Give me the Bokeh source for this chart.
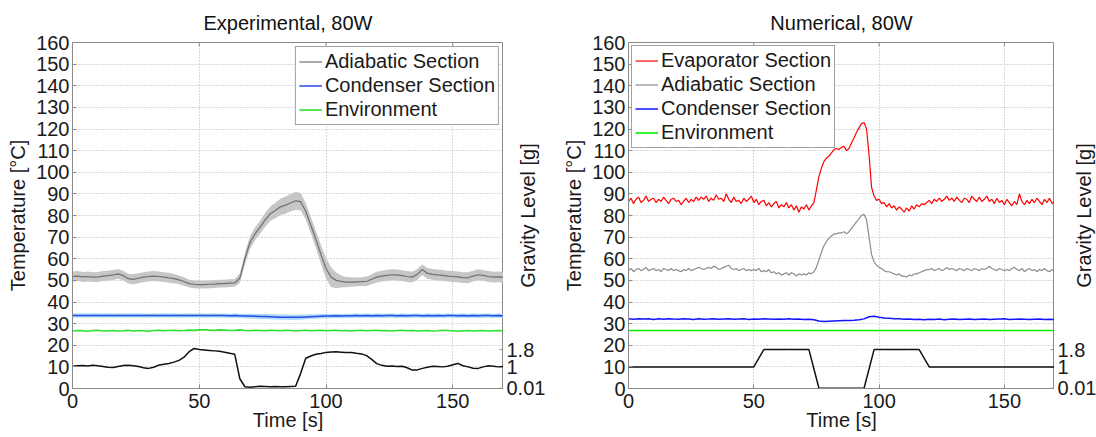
import math
from bokeh.plotting import figure
from bokeh.models import Range1d, FixedTicker, Legend, LegendItem
from bokeh.layouts import row
from bokeh.embed import file_html
from bokeh.resources import INLINE
from bokeh.core.properties import value

# ---------------- data ----------------
x_ticks = [0, 50, 100, 150]
y_ticks = [0, 10, 20, 30, 40, 50, 60, 70, 80, 90, 100, 110, 120, 130, 140, 150, 160]
g_ticks = [0.01, 1, 1.8]
g_tick_labels = ["0.01", "1", "1.8"]

t_exp = list(range(0, 171, 2))

exp_adiab = [51.8, 52.0, 51.6, 51.8, 51.5, 51.6, 52.0, 52.2, 52.5, 53.0,
             52.2, 50.8, 50.5, 51.0, 51.5, 51.8, 52.0, 51.8, 51.5, 51.2,
             50.8, 50.2, 49.5, 48.5, 48.2, 48.0, 48.0, 48.2, 48.3, 48.5,
             48.5, 48.7, 48.8, 51.0, 60.0, 67.5, 71.5, 74.6, 78.0, 80.8,
             82.3, 84.0, 84.8, 85.8, 86.8, 86.4, 82.0, 75.5, 69.0, 62.0,
             55.5, 51.5, 50.0, 49.5, 49.2, 49.2, 49.3, 49.4, 49.6, 50.5,
             51.5, 52.0, 52.3, 52.6, 52.5, 52.2, 51.8, 51.5, 52.8, 55.0,
             53.2, 52.8, 52.5, 52.3, 52.0, 51.8, 51.6, 51.3, 51.2, 52.0,
             52.6, 52.3, 51.8, 51.5, 51.6, 51.5]

exp_adiab_band = [2.3, 2.3, 2.3, 2.3, 2.3, 2.3, 2.3, 2.3, 2.3, 2.3,
                  2.3, 2.3, 2.3, 2.3, 2.3, 2.3, 2.3, 2.3, 2.3, 2.3,
                  2.1, 2.0, 2.0, 1.8, 1.8, 1.8, 1.8, 1.8, 1.8, 1.8,
                  1.8, 1.8, 1.8, 2.2, 2.8, 3.0, 3.0, 3.0, 3.2, 3.4,
                  3.6, 3.8, 4.0, 4.0, 4.2, 4.0, 3.8, 3.8, 4.0, 4.4,
                  4.8, 4.6, 3.6, 2.8, 2.4, 2.2, 2.0, 2.0, 2.2, 2.3,
                  2.5, 2.5, 2.5, 2.5, 2.5, 2.5, 2.5, 2.5, 2.5, 2.5,
                  2.5, 2.5, 2.5, 2.5, 2.5, 2.5, 2.5, 2.5, 2.5, 2.5,
                  2.5, 2.5, 2.5, 2.5, 2.5, 2.5]

exp_cond = [33.8, 33.7, 33.8, 33.7, 33.8, 33.8, 33.7, 33.8, 33.7, 33.8,
            33.7, 33.8, 33.7, 33.8, 33.7, 33.7, 33.8, 33.7, 33.8, 33.7,
            33.8, 33.7, 33.7, 33.8, 33.7, 33.8, 33.7, 33.7, 33.8, 33.7,
            33.7, 33.6, 33.7, 33.6, 33.5, 33.5, 33.4, 33.3, 33.3, 33.2,
            33.1, 33.0, 33.0, 32.9, 32.9, 33.0, 33.1, 33.2, 33.3, 33.4,
            33.5, 33.5, 33.6, 33.5, 33.6, 33.6, 33.7, 33.6, 33.7, 33.6,
            33.7, 33.6, 33.7, 33.7, 33.6, 33.7, 33.6, 33.7, 33.7, 33.6,
            33.7, 33.6, 33.7, 33.6, 33.7, 33.7, 33.6, 33.7, 33.6, 33.7,
            33.6, 33.7, 33.7, 33.6, 33.7, 33.6]

exp_cond_band = [1.0, 1.0, 1.0, 1.0, 1.0, 1.0, 1.0, 1.0, 1.0, 1.0,
                 1.0, 1.0, 1.0, 1.0, 1.0, 1.0, 1.0, 1.0, 1.0, 1.0,
                 1.0, 1.0, 1.0, 1.0, 1.0, 1.0, 1.0, 1.0, 1.0, 1.0,
                 1.0, 1.0, 1.0, 1.0, 1.1, 1.1, 1.1, 1.2, 1.2, 1.2,
                 1.2, 1.2, 1.2, 1.2, 1.2, 1.2, 1.1, 1.1, 1.0, 1.0,
                 1.0, 1.0, 1.0, 1.0, 1.0, 1.0, 1.0, 1.0, 1.0, 1.0,
                 1.0, 1.0, 1.0, 1.0, 1.0, 1.0, 1.0, 1.0, 1.0, 1.0,
                 1.0, 1.0, 1.0, 1.0, 1.0, 1.0, 1.0, 1.0, 1.0, 1.0,
                 1.0, 1.0, 1.0, 1.0, 1.0, 1.0]

exp_env = [26.6, 26.8, 26.7, 26.5, 26.8, 26.9, 26.6, 26.7, 26.8, 26.6,
           26.7, 26.9, 26.6, 26.8, 26.7, 26.5, 26.8, 26.9, 26.7, 26.8,
           26.9, 26.7, 26.8, 27.0, 26.9, 27.1, 27.2, 27.0, 26.9, 27.1,
           27.0, 26.8, 26.9, 27.1, 26.8, 26.7, 26.9, 26.8, 26.7, 26.9,
           26.8, 26.7, 26.9, 26.8, 26.6, 26.8, 26.9, 26.7, 26.8, 26.9,
           26.7, 26.8, 26.9, 26.7, 26.8, 26.6, 26.8, 26.9, 26.7, 26.8,
           26.9, 26.7, 26.8, 26.6, 26.8, 26.9, 26.7, 26.8, 26.6, 26.7,
           26.8, 26.6, 26.7, 26.9, 26.8, 26.7, 26.5, 26.7, 26.8, 26.6,
           26.7, 26.8, 26.6, 26.7, 26.8, 26.7]

exp_grav = [1.03, 1.05, 1.06, 1.04, 1.08, 1.05, 1.02, 0.98, 0.97, 1.02,
            1.06, 1.08, 1.05, 1.02, 0.96, 0.93, 0.98, 1.08, 1.12, 1.16,
            1.22, 1.30, 1.45, 1.70, 1.85, 1.80, 1.78, 1.76, 1.74, 1.72,
            1.68, 1.63, 1.58, 0.45, 0.08, 0.06, 0.08, 0.10, 0.09, 0.08,
            0.09, 0.08, 0.08, 0.09, 0.10, 0.70, 1.40, 1.50, 1.58, 1.62,
            1.67, 1.69, 1.70, 1.68, 1.66, 1.67, 1.63, 1.60, 1.52, 1.35,
            1.15, 1.07, 1.03, 1.04, 1.02, 1.03, 0.96, 0.85, 0.86, 0.93,
            0.98, 1.03, 1.02, 1.00, 1.03, 1.10, 1.16, 1.05, 1.00, 0.94,
            0.93, 1.00, 1.05, 1.03, 1.00, 1.02]

t_num = list(range(0, 171))

num_evap = [86.5, 88.0, 85.5, 87.5, 88.5, 86.0, 87.0, 89.0, 86.5, 87.5,
            88.0, 86.0, 87.5, 86.5, 88.5, 87.0, 85.5, 87.5, 88.0, 86.5,
            87.0, 85.0, 86.5, 88.0, 86.0, 87.5, 86.5, 88.5, 87.0, 88.5,
            87.5, 89.0, 86.5, 88.0, 87.0, 89.5, 87.5, 88.0, 86.5, 90.0,
            87.5, 86.0, 88.5, 86.5, 87.0, 85.5, 88.0, 86.5, 87.5, 89.0,
            86.0, 87.5, 85.0, 86.5, 87.0, 84.5, 86.0, 84.0, 85.5, 86.5,
            83.5, 85.0, 84.0, 86.0, 83.5, 85.0, 82.5, 84.5, 81.5, 84.0,
            83.0, 85.0, 82.5, 84.5, 86.0, 92.0, 98.0, 102.0, 105.0, 106.5,
            107.5, 109.0, 110.5, 111.0, 110.5, 111.5, 112.0, 110.0, 111.0, 113.5,
            116.0, 118.5, 120.5, 122.5, 123.0, 120.0, 108.0, 93.0, 89.0, 87.0,
            87.5, 85.5, 86.0, 84.0, 85.5, 83.5, 84.5, 82.5, 84.0, 83.0,
            81.5, 83.5, 82.0, 84.5, 83.0, 85.0, 84.0, 85.5, 85.0, 86.0,
            87.0, 85.5, 87.5, 86.5, 88.0, 86.5, 87.5, 89.0, 87.0, 88.0,
            86.5, 88.5, 87.0, 86.0, 88.0, 87.5, 86.0, 89.0, 87.5, 86.5,
            88.5, 86.5, 87.5, 89.0, 86.5, 87.5, 85.5, 88.0, 86.0, 87.0,
            85.0, 87.5, 86.0, 84.5, 86.5, 85.0, 90.0, 86.5, 85.0, 87.0,
            85.5, 87.5, 86.0, 88.0, 86.5, 85.0, 87.5, 86.0, 88.0, 85.5,
            86.5]

num_adiab = [54.5, 55.5, 54.0, 55.0, 55.5, 54.5, 55.0, 56.0, 54.5, 55.0,
             55.5, 54.5, 55.0, 54.0, 55.5, 55.0, 54.5, 55.5, 54.5, 55.0,
             54.5, 54.0, 55.0, 54.5, 55.5, 54.5, 55.0, 55.5, 56.0, 55.5,
             55.0, 55.5, 56.0, 55.5, 56.5, 56.0, 55.0, 55.5, 56.0, 56.5,
             57.0, 55.5, 55.0, 55.5, 54.5, 55.0, 55.5, 54.5, 55.0, 54.5,
             55.0, 54.5, 55.5, 54.0, 54.5, 54.0, 55.0, 53.5, 54.0, 53.0,
             53.5, 52.5, 53.0, 53.5, 52.5, 53.5, 53.0, 52.0, 53.0, 52.5,
             53.0, 52.5, 53.5, 53.0, 54.0, 56.0, 59.5, 63.0, 66.0, 68.0,
             69.5, 70.5, 71.5, 71.5, 72.0, 72.0, 72.5, 71.5, 72.5, 74.0,
             75.5, 77.0, 78.5, 80.0, 80.5, 78.0, 70.0, 62.0, 58.5, 57.0,
             56.0, 55.5, 54.5, 54.0, 54.0, 53.5, 53.0, 52.5, 53.0, 52.0,
             52.0, 51.5, 52.5, 52.0, 53.0, 53.0, 53.5, 54.0, 54.5, 55.0,
             55.0, 55.5, 54.5, 55.0, 55.5, 54.5, 55.0, 56.0, 55.0, 55.5,
             55.0, 54.5, 55.5, 55.0, 54.5, 55.5, 55.0, 54.5, 55.5, 55.0,
             54.5, 55.5, 55.0, 55.5, 56.5, 55.5, 55.0, 54.5, 55.5, 55.0,
             54.5, 55.0, 54.5, 55.5, 56.0, 55.0, 54.5, 55.5, 54.0, 55.0,
             55.5, 54.5, 55.0, 54.0, 55.0, 54.5, 55.5, 54.5, 54.0, 55.0,
             54.5]

num_cond = [32.2, 32.0, 32.3, 32.1, 32.2, 31.9, 32.2, 32.0, 32.3, 32.1,
            32.0, 32.2, 32.1, 31.9, 32.2, 32.0, 32.1, 32.3, 32.0, 32.1,
            32.2, 32.0, 32.1, 32.2, 31.9, 32.1, 32.0, 32.2, 32.1, 32.0,
            32.1, 32.0, 32.2, 32.0, 32.1, 31.9, 32.0, 31.8, 31.2, 31.0,
            31.1, 31.2, 31.3, 31.4, 31.5, 31.6, 31.8, 32.2, 33.2, 33.4,
            32.9, 32.6, 32.5, 32.3, 32.2, 32.0, 32.1, 31.9, 32.0, 31.8,
            32.0, 31.9, 32.1, 31.8, 32.0, 32.1, 31.9, 32.0, 32.1, 31.9,
            32.0, 32.1, 31.9, 32.0, 32.1, 32.2, 31.9, 32.0, 32.1, 32.0,
            31.9, 32.0, 32.1, 31.9, 32.0, 31.9]

num_env_t = [0, 170]
num_env = [26.8, 26.8]

num_grav_t = [0, 50, 54, 72, 76, 94, 98, 116, 120, 170]
num_grav = [1, 1, 1.8, 1.8, 0.01, 0.01, 1.8, 1.8, 1, 1]

# ---------------- styling / layout constants ----------------
FONT = "Liberation Sans"
FS = "20px"
H = 437
BT, BB = 42, 49          # space above / below the plotting frame
X_MAX, T_MAX, G_MAX = 170, 160, 16
AX_COLOR = "#8a8a8a"
TXT_COLOR = "#1a1a1a"


def no_frame_align(fig):
    if "frame_align" in fig.properties():
        fig.frame_align = False


def make_fig(title, width, bl):
    p = figure(width=width, height=H, output_backend="svg", toolbar_location=None,
               x_range=Range1d(0, X_MAX), y_range=Range1d(0, T_MAX),
               min_border_left=bl, min_border_right=0,
               min_border_top=BT, min_border_bottom=BB, title=title)
    no_frame_align(p)
    p.title.text_font = FONT
    p.title.text_font_size = FS
    p.title.text_font_style = "normal"
    p.title.align = "center"
    p.title.text_color = "#111111"
    p.title.standoff = 18
    p.outline_line_color = AX_COLOR
    p.background_fill_color = "white"
    p.border_fill_color = "white"
    p.extra_y_ranges = {"g": Range1d(0, G_MAX)}

    for ax in (p.xaxis[0], p.yaxis[0]):
        ax.axis_line_color = AX_COLOR
        ax.major_tick_line_color = AX_COLOR
        ax.major_tick_in = 4
        ax.major_tick_out = 0
        ax.minor_tick_line_color = None
        ax.major_label_text_font = FONT
        ax.major_label_text_font_size = FS
        ax.major_label_text_color = TXT_COLOR
        ax.axis_label_text_font = FONT
        ax.axis_label_text_font_size = FS
        ax.axis_label_text_font_style = "normal"
        ax.axis_label_text_color = TXT_COLOR
    p.xaxis[0].ticker = FixedTicker(ticks=x_ticks)
    p.yaxis[0].ticker = FixedTicker(ticks=y_ticks)
    p.xaxis[0].axis_label = "Time [s]"
    p.yaxis[0].axis_label = "Temperature [°C]"
    p.xaxis[0].major_label_standoff = 5
    p.xaxis[0].axis_label_standoff = -2
    p.yaxis[0].major_label_standoff = 3
    p.yaxis[0].axis_label_standoff = 4

    p.xgrid.ticker = FixedTicker(ticks=x_ticks)
    p.ygrid.ticker = FixedTicker(ticks=y_ticks)
    for g in (p.xgrid[0], p.ygrid[0]):
        g.grid_line_color = "#b4b4b4"
        g.grid_line_dash = "1 2"
        g.grid_line_width = 1

    # inward ticks of the gravity scale on the right edge of the frame
    p.scatter(x=[X_MAX] * len(g_ticks), y=g_ticks, y_range_name="g", marker="dash",
              size=8, line_color=AX_COLOR, line_width=1)
    # inward time ticks on the top edge of the box
    p.scatter(x=x_ticks[1:], y=[T_MAX] * (len(x_ticks) - 1), marker="dash",
              angle=math.pi / 2, size=8, line_color=AX_COLOR, line_width=1)
    return p


def gravity_strip(width, label_x):
    """Right-hand gravity scale: tick labels and rotated title."""
    ppu = (H - BT - BB) / G_MAX
    s = figure(width=width, height=H, output_backend="svg", toolbar_location=None,
               x_range=Range1d(0, width),
               y_range=Range1d(-BB / ppu, G_MAX + BT / ppu),
               min_border_left=0, min_border_right=0, min_border_top=0,
               min_border_bottom=0, x_axis_location=None, y_axis_location=None,
               title=None)
    no_frame_align(s)
    s.outline_line_color = None
    s.grid.visible = False
    s.background_fill_color = "white"
    s.border_fill_color = "white"
    s.text(x=[3] * len(g_ticks), y=g_ticks, text=g_tick_labels,
           text_font=value(FONT), text_font_size=value(FS), text_color=TXT_COLOR,
           text_align="left", text_baseline="middle")
    s.text(x=[label_x], y=[G_MAX / 2], text=["Gravity Level [g]"], angle=math.pi / 2,
           text_font=value(FONT), text_font_size=value(FS), text_color=TXT_COLOR,
           text_align="center", text_baseline="middle")
    return s


def style_legend(items, location, label_width, margin):
    lg = Legend(items=items, location=location)
    lg.label_text_font = FONT
    lg.label_text_font_size = FS
    lg.label_text_color = TXT_COLOR
    lg.glyph_width = 23
    lg.glyph_height = 23
    lg.label_height = 23
    lg.label_width = label_width
    lg.label_standoff = 3
    lg.padding = 3
    lg.spacing = 1
    lg.margin = margin
    lg.border_line_color = "#444444"
    lg.border_line_width = 1
    lg.background_fill_color = "white"
    lg.background_fill_alpha = 1
    return lg


# ---------------- experimental ----------------
p1 = make_fig("Experimental, 80W", 503, 72)
lo_a = [m - b for m, b in zip(exp_adiab, exp_adiab_band)]
hi_a = [m + b for m, b in zip(exp_adiab, exp_adiab_band)]
lo_c = [m - b for m, b in zip(exp_cond, exp_cond_band)]
hi_c = [m + b for m, b in zip(exp_cond, exp_cond_band)]
p1.varea(x=t_exp, y1=lo_a, y2=hi_a, fill_color="#c6c6c6", fill_alpha=1)
p1.varea(x=t_exp, y1=lo_c, y2=hi_c, fill_color="#a9dcf7", fill_alpha=1)
r_a = p1.line(t_exp, exp_adiab, line_color="#707070", line_width=1.2)
r_c = p1.line(t_exp, exp_cond, line_color="#2a48e6", line_width=1.5)
r_e = p1.line(t_exp, exp_env, line_color="#2ee02e", line_width=1.6)
p1.line(t_exp, exp_grav, y_range_name="g", line_color="#111111", line_width=1.5)
p1.add_layout(style_legend([LegendItem(label="Adiabatic Section", renderers=[r_a]),
                            LegendItem(label="Condenser Section", renderers=[r_c]),
                            LegendItem(label="Environment", renderers=[r_e])],
                           "top_right", 170, 4))
g1 = gravity_strip(45, 24)

# ---------------- numerical ----------------
p2 = make_fig("Numerical, 80W", 506, 80)
n_e = p2.line(t_num, num_evap, line_color="#ff0000", line_width=1.2)
n_a = p2.line(t_num, num_adiab, line_color="#8c8c8c", line_width=1.2)
n_c = p2.line(t_exp, num_cond, line_color="#1414ff", line_width=1.5)
n_v = p2.line(num_env_t, num_env, line_color="#00ee00", line_width=1.6)
p2.line(num_grav_t, num_grav, y_range_name="g", line_color="#111111", line_width=1.5)
p2.add_layout(style_legend([LegendItem(label="Evaporator Section", renderers=[n_e]),
                            LegendItem(label="Adiabatic Section", renderers=[n_a]),
                            LegendItem(label="Condenser Section", renderers=[n_c]),
                            LegendItem(label="Environment", renderers=[n_v])],
                           "top_left", 166, 3))
g2 = gravity_strip(42, 29)

layout = row(p1, g1, p2, g2)
open("out.html", "w").write(file_html(layout, INLINE))
